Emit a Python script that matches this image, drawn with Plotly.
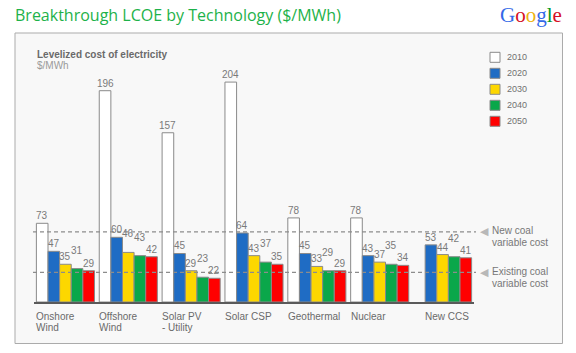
import plotly.graph_objects as go

# ---------------- data ----------------
categories = ["Onshore Wind", "Offshore Wind", "Solar PV - Utility", "Solar CSP",
              "Geothermal", "Nuclear", "New CCS"]
category_lines = [["Onshore", "Wind"], ["Offshore", "Wind"], ["Solar PV", "- Utility"],
                  ["Solar CSP"], ["Geothermal"], ["Nuclear"], ["New CCS"]]
years = ["2010", "2020", "2030", "2040", "2050"]
lcoe_2010 = [73, 196, 157, 204, 78, 78, None]
lcoe_2020 = [47, 60, 45, 64, 45, 43, 53]
lcoe_2030 = [35, 46, 29, 43, 33, 37, 44]
lcoe_2040 = [31, 43, 23, 37, 29, 35, 42]
lcoe_2050 = [29, 42, 22, 35, 29, 34, 41]
series = [lcoe_2010, lcoe_2020, lcoe_2030, lcoe_2040, lcoe_2050]
new_coal_variable_cost = 65
existing_coal_variable_cost = 27.5

# ---------------- style ----------------
fills = ["#ffffff", "#1f6cc4", "#fdd700", "#0aa74a", "#ff0000"]
# extra lift (px) of value labels, to avoid overlaps as in the original
label_lift = [[0] * 7, [0] * 7, [0, 11, 0, 0, 0, 0, 0], [11] * 7, [0] * 7]

W, H = 576, 353
L, R, T, B = 34, 102, 60, 51
PW, PH = W - L - R, H - T - B
Y_MAX = PH / 1.078
BARGAP = 0.076
GROUPW = 1 - BARGAP
NB = len(series)


def px_x(px):
    return (px - L) / PW


def px_y(py):
    return (H - B - py) / PH


FONT = "Liberation Sans, Arial, sans-serif"
fig = go.Figure()

for j, (yr, vals) in enumerate(zip(years, series)):
    fig.add_trace(go.Bar(
        x=list(range(len(categories))), y=vals, name=yr,
        marker=dict(color=fills[j], line=dict(color="#8a8a8a", width=1)),
        showlegend=False,
    ))

annotations = []
# value labels
for j, vals in enumerate(series):
    for i, v in enumerate(vals):
        if v is None:
            continue
        xc = i - GROUPW / 2 + (j + 0.5) * GROUPW / NB
        annotations.append(dict(
            x=xc, y=v, xref="x", yref="y", text=str(v), showarrow=False,
            yanchor="bottom", xanchor="center", yshift=label_lift[j][i],
            font=dict(family=FONT, size=10, color="#7a7a7a")))

# category labels, left-aligned with first drawn bar
for i, lines in enumerate(category_lines):
    first = next(j for j in range(NB) if series[j][i] is not None)
    xl = i - GROUPW / 2 + first * GROUPW / NB
    for k, line in enumerate(lines):
        annotations.append(dict(
            x=xl, y=0, xref="x", yref="y", text=line, showarrow=False,
            xanchor="left", yanchor="middle", xshift=-2, yshift=-14 - 11.6 * k,
            font=dict(family=FONT, size=10, color="#6a6a6a")))

# reference lines
shapes = []
for val, txt in [(new_coal_variable_cost, ["New coal", "variable cost"]),
                 (existing_coal_variable_cost, ["Existing coal", "variable cost"])]:
    shapes.append(dict(type="line", xref="paper", yref="y", x0=px_x(33), x1=px_x(476),
                       y0=val, y1=val, line=dict(color="#8c8c8c", width=1.3, dash="4px,3px"),
                       layer="above"))
    annotations.append(dict(x=px_x(478), y=val, xref="paper", yref="y", text="◀",
                            showarrow=False, xanchor="left", yanchor="middle",
                            font=dict(family="DejaVu Sans", size=11, color="#b8b8b8")))
    for k, line in enumerate(txt):
        annotations.append(dict(x=px_x(490), y=val, xref="paper", yref="y", text=line,
                                showarrow=False, xanchor="left", yanchor="middle",
                                yshift=1 - 12 * k,
                                font=dict(family=FONT, size=10, color="#777777")))

# panel
shapes.insert(0, dict(type="rect", xref="paper", yref="paper",
                      x0=px_x(15), x1=px_x(562.5), y0=px_y(343.5), y1=px_y(33),
                      fillcolor="#f8f8f8", line=dict(color="#ababab", width=1), layer="below"))

# custom legend
for j, yr in enumerate(years):
    cy = 57.3 + 16 * j
    shapes.append(dict(type="rect", xref="paper", yref="paper",
                       x0=px_x(490), x1=px_x(500), y0=px_y(cy + 5), y1=px_y(cy - 5),
                       fillcolor=fills[j], line=dict(color="#8a8a8a", width=1), layer="above"))
    annotations.append(dict(x=px_x(505), y=px_y(cy), xref="paper", yref="paper", text=yr,
                            showarrow=False, xanchor="left", yanchor="middle",
                            font=dict(family=FONT, size=9, color="#707070")))

# chart subtitles
annotations.append(dict(x=px_x(35), y=px_y(54.3), xref="paper", yref="paper",
                        text="<b>Levelized cost of electricity</b>", showarrow=False,
                        xanchor="left", yanchor="middle",
                        font=dict(family=FONT, size=10, color="#6a6a6a")))
annotations.append(dict(x=px_x(35), y=px_y(65.7), xref="paper", yref="paper",
                        text="$/MWh", showarrow=False, xanchor="left", yanchor="middle",
                        font=dict(family=FONT, size=10, color="#9a9a9a")))

# main title
annotations.append(dict(x=px_x(13), y=px_y(15), xref="paper", yref="paper",
                        text="Breakthrough LCOE by Technology ($/MWh)", showarrow=False,
                        xanchor="left", yanchor="middle",
                        font=dict(family="Open Sans, sans-serif", size=16, color="#1db24a")))
# Google logo
g_cols = ["#3369e8", "#d50f25", "#eeb211", "#3369e8", "#009925", "#d50f25"]
logo = "".join(f"<span style='color:{c}'>{ch}</span>" for ch, c in zip("Google", g_cols))
annotations.append(dict(x=px_x(498), y=px_y(15), xref="paper", yref="paper",
                        text=logo, showarrow=False, xanchor="left", yanchor="middle",
                        font=dict(family="Liberation Serif, serif", size=21)))

fig.update_layout(
    width=W, height=H, margin=dict(l=L, r=R, t=T, b=B),
    paper_bgcolor="#ffffff", plot_bgcolor="rgba(0,0,0,0)",
    barmode="group", bargap=BARGAP, bargroupgap=0,
    xaxis=dict(range=[-0.5, len(categories) - 0.5], showticklabels=False, showgrid=False,
               zeroline=False, showline=True, linecolor="#5a5a5a", linewidth=2, ticks=""),
    yaxis=dict(range=[0, Y_MAX], visible=False, showgrid=False, zeroline=False),
    shapes=shapes, annotations=annotations,
)

fig.write_html("out.html")
